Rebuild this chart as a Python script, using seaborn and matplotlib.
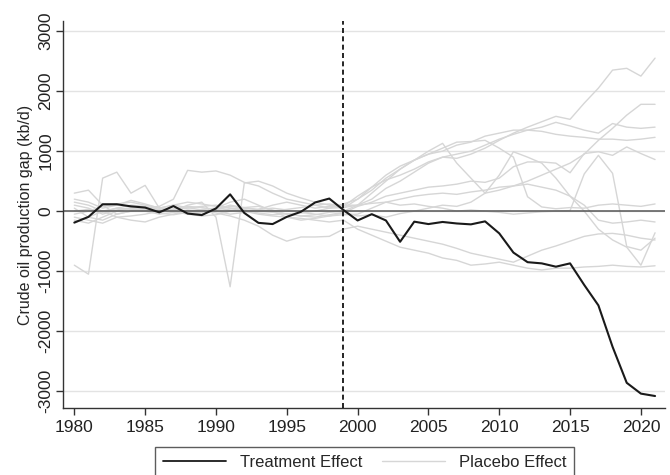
import numpy as np
import pandas as pd
import matplotlib
matplotlib.use("Agg")
import matplotlib.pyplot as plt
from matplotlib.lines import Line2D
import seaborn as sns

years = list(range(1980, 2022))

treatment = [
    -190, -95, 115, 115, 80, 60, -20, 85, -40, -65,
    45, 280, -30, -195, -215, -95, -10, 145, 210, 20,
    -155, -50, -155, -510, -175, -215, -180, -205, -220, -170,
    -370, -690, -850, -870, -925, -870, -1230, -1570, -2260, -2860,
    -3040, -3080,
]

placebo_1 = [
    100, 50, -50, 20, 60, 30, -30, 40, 80, 60,
    30, 100, 60, 20, 0, 30, 60, 100, 120, 80,
    250, 400, 520, 600, 700, 820, 900, 880, 950, 1050,
    1180, 1300, 1400, 1490, 1580, 1530, 1800, 2050, 2350, 2380,
    2250, 2550,
]
placebo_2 = [
    -900, -1050, 550, 650, 300, 430, 50, 100, 150, 120,
    80, 50, 20, -30, -60, -40, -80, -100, -60, -20,
    -80, -60, -100, -40, 0, 50, 100, 80, 150, 300,
    350, 420, 500, 600, 700, 800, 950, 1180, 1380, 1600,
    1780, 1780,
]
placebo_3 = [
    50, -100, -150, -50, 0, 50, 80, 200, 680, 650,
    670, 600, 480, 420, 300, 200, 150, 100, 50, 60,
    100, 200, 380, 500, 650, 800, 900, 950, 1000, 1100,
    1200, 1280, 1350, 1400, 1480, 1420, 1350, 1300, 1460, 1400,
    1380, 1400,
]
placebo_4 = [
    300, 350, 100, -50, 0, 50, 20, 0, 100, 150,
    -100, -1260, 470, 500, 420, 300, 220, 150, 100, 50,
    200, 400, 600, 750, 850, 950, 1000, 1100, 1150, 1250,
    1300, 1350, 1350, 1330, 1280, 1250, 1230, 1200, 1200, 1180,
    1200, 1230,
]
placebo_5 = [
    150, 100, 0, -100, -150, -180, -100, -50, 0, -50,
    50, 150, 200, 100, 0, -100, -150, -120, -80, -30,
    80, 150, 250, 300, 350, 400, 420, 450, 500, 480,
    550, 740, 820, 820, 800, 640, 960, 990, 930, 1070,
    960, 860,
]
placebo_6 = [
    -100, -150, -200, -100, -80, -50, 0, 30, 50, 80,
    100, 50, 20, 0, -20, -50, -30, 0, 50, 120,
    200, 350, 550, 700, 850, 950, 1050, 1150, 1160, 1180,
    1050, 900, 240, 70, 40, 60, 50, 100, 120, 100,
    80, 120,
]
placebo_7 = [
    0, 30, -20, 50, 100, 80, 30, 0, -30, -20,
    20, 80, 50, 30, 100, 150, 100, 50, 80, 100,
    100, 300, 500, 700, 850, 1000, 1130, 800, 550, 300,
    600, 990, 900, 800, 550, 250, 0, -300, -480, -600,
    -900, -360,
]
placebo_8 = [
    -50, 0, 80, 120, 150, 100, 60, 0, -50, -80,
    -60, 0, 60, 80, 20, -50, -80, -60, -20, 0,
    100, 130, 150, 100, 120, 80, 50, 0, 20, 0,
    -20, -50, -30, -10, 0, 10, 620, 930, 630, -590,
    -650, -450,
]
placebo_9 = [
    200, 150, 50, 100, 180, 120, 50, 100, 60, 20,
    0, -50, -20, 30, 50, 20, -20, -50, -80, -60,
    -50, 50, 150, 200, 250, 280, 300, 280, 320, 350,
    400, 420, 450, 400, 350, 250, 100, -150, -200, -180,
    -150, -180,
]
placebo_10 = [
    -150, -200, -100, 0, 50, 20, -30, -60, -20, 30,
    50, 20, 0, -50, -80, -100, -120, -150, -180, -150,
    -300, -400, -500, -600, -650, -700, -780, -820, -900, -880,
    -850, -900, -950, -980, -950, -950, -930, -920, -900, -920,
    -930, -910,
]
placebo_11 = [
    -200, -100, 0, 50, 30, 0, -50, -20, 20, 0,
    -30, -80, -150, -250, -400, -500, -430, -430, -420, -300,
    -250, -300, -350, -400, -450, -500, -550, -620, -700, -750,
    -800, -850, -750, -650, -580, -500, -420, -380, -370, -400,
    -450, -480,
]
placebos = [placebo_1, placebo_2, placebo_3, placebo_4, placebo_5, placebo_6,
            placebo_7, placebo_8, placebo_9, placebo_10, placebo_11]

treatment_year = 1999
yticks = [-3000, -2000, -1000, 0, 1000, 2000, 3000]
xticks = [1980, 1985, 1990, 1995, 2000, 2005, 2010, 2015, 2020]

rows = []
for i, series in enumerate(placebos):
    for y, v in zip(years, series):
        rows.append({"year": y, "gap": v, "unit": f"p{i}"})
df_placebo = pd.DataFrame(rows)
df_treat = pd.DataFrame({"year": years, "gap": treatment})

sns.set_theme(style="white")
plt.rcParams["font.family"] = ["Liberation Sans", "DejaVu Sans"]

fig = plt.figure(figsize=(6.7, 4.75), dpi=100)
ax = fig.add_axes([0.094, 0.141, 0.8985, 0.815])

for yt in yticks:
    ax.axhline(yt, color="#e3e3e3", lw=1.0, zorder=0)

placebo_color = "#d6d6d6"
sns.lineplot(data=df_placebo, x="year", y="gap", units="unit", estimator=None,
             color=placebo_color, lw=1.0, ax=ax, legend=False, zorder=1)
ax.axhline(0, color="#555555", lw=1.1, zorder=2)
sns.lineplot(data=df_treat, x="year", y="gap", color="#1a1a1a", lw=1.5,
             ax=ax, legend=False, zorder=3)
ax.axvline(treatment_year, color="black", lw=1.2, ls=(0, (3, 2)), zorder=4)

ax.set_xlim(1979.2, 2021.7)
ax.set_ylim(-3280, 3170)
ax.set_xticks(xticks)
ax.set_yticks(yticks)
ax.set_xticklabels([str(x) for x in xticks], fontsize=12.5)
ax.set_yticklabels([str(y) for y in yticks], fontsize=12.5, rotation=90, va="center")
ax.set_xlabel("")
ax.set_ylabel("Crude oil production gap (kb/d)", fontsize=11.5, labelpad=4)

for s in ["top", "right"]:
    ax.spines[s].set_visible(False)
for s in ["left", "bottom"]:
    ax.spines[s].set_color("#333333")
    ax.spines[s].set_linewidth(1.0)
ax.tick_params(axis="both", direction="out", length=5, width=1, color="#333333",
               labelcolor="#222222", left=True, bottom=True)
ax.tick_params(axis="y", pad=2)
ax.grid(False)

handles = [Line2D([], [], color="#1a1a1a", lw=1.3),
           Line2D([], [], color=placebo_color, lw=1.0)]
leg = fig.legend(handles, ["Treatment Effect", "Placebo Effect"], loc="upper center",
                 bbox_to_anchor=(0.544, 0.059), ncol=2, frameon=True, fancybox=False,
                 edgecolor="#333333", fontsize=12, handlelength=3.8,
                 handletextpad=0.8, columnspacing=1.2, borderpad=0.5,
                 borderaxespad=0)
leg.get_frame().set_linewidth(1.0)

fig.savefig("out.png", dpi=100)
